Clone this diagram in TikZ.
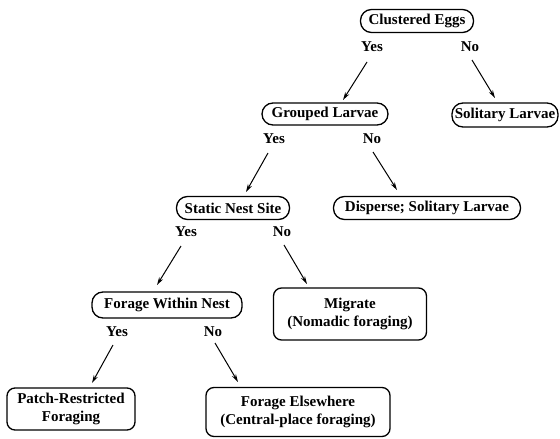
\documentclass[tikz,border=0pt]{standalone}
\usepackage{fontspec}
\setmainfont{Liberation Serif}
\usetikzlibrary{arrows.meta}
\begin{document}
\begin{tikzpicture}[x=1pt,y=-1pt,
  every node/.style={font=\fontsize{15}{18}\selectfont\bfseries},
  capsule/.style={draw,line width=1.3pt,rounded corners=11pt,inner sep=0pt,align=center},
  tallbox/.style={draw,line width=1.3pt,rounded corners=8pt,inner sep=0pt,align=center},
  lbl/.style={inner sep=0pt},
  arr/.style={line width=1pt,-{Stealth[length=8pt,width=4.5pt]}}]
\useasboundingbox (0,0) rectangle (560,439);
% boxes
\node[capsule,minimum width=113pt,minimum height=23pt] (ce) at (417,21) {Clustered Eggs};
\node[capsule,minimum width=126pt,minimum height=22pt] (gl) at (325,114) {Grouped Larvae};
\node[capsule,minimum width=106pt,minimum height=24pt] (sl) at (505,115) {Solitary Larvae};
\node[capsule,minimum width=113pt,minimum height=23pt] (sn) at (233,208) {Static Nest Site};
\node[capsule,minimum width=187pt,minimum height=23pt] (ds) at (427,208) {Disperse; Solitary Larvae};
\node[capsule,minimum width=150pt,minimum height=26pt] (fw) at (167,305) {Forage Within Nest};
\node[tallbox,minimum width=153pt,minimum height=52pt] (mg) at (350,314) {Migrate\\(Nomadic foraging)};
\node[tallbox,minimum width=128pt,minimum height=42pt] (pr) at (71,409) {Patch-Restricted\\Foraging};
\node[tallbox,minimum width=184pt,minimum height=49pt] (fe) at (298,412) {Forage Elsewhere\\(Central-place foraging)};
% labels
\node[lbl] (y1) at (372,47) {Yes};
\node[lbl] (n1) at (470,47) {No};
\node[lbl] (y2) at (274,139) {Yes};
\node[lbl] (n2) at (372,139) {No};
\node[lbl] (y3) at (186,232) {Yes};
\node[lbl] (n3) at (282,232) {No};
\node[lbl] (y4) at (117,332) {Yes};
\node[lbl] (n4) at (213,332) {No};
% arrows
\draw[arr] ([shift={(-5,15)}]y1.center) -- ([shift={(18,-14)}]gl.center);
\draw[arr] ([shift={(2,13)}]n1.center) -- ([shift={(-10,-17)}]sl.center);
\draw[arr] ([shift={(-6,14)}]y2.center) -- ([shift={(13,-16)}]sn.center);
\draw[arr] ([shift={(1,13)}]n2.center) -- ([shift={(-30,-18)}]ds.center);
\draw[arr] ([shift={(-5,14)}]y3.center) -- ([shift={(-10,-20)}]fw.center);
\draw[arr] ([shift={(2,13)}]n3.center) -- ([shift={(-43,-30)}]mg.center);
\draw[arr] ([shift={(-4,13)}]y4.center) -- ([shift={(21,-26)}]pr.center);
\draw[arr] ([shift={(2,11)}]n4.center) -- ([shift={(-60,-30)}]fe.center);
\end{tikzpicture}
\end{document}
